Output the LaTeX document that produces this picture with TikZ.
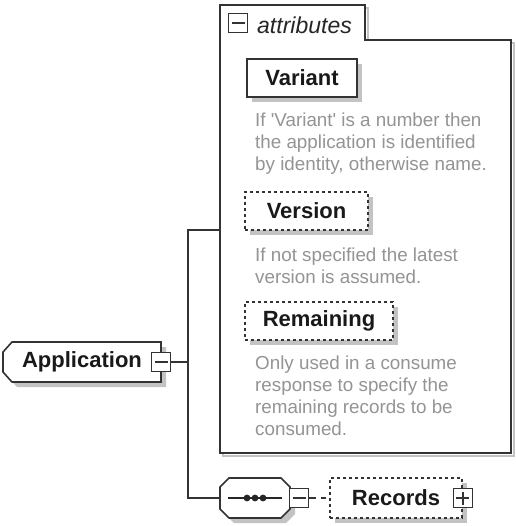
\documentclass[tikz,border=0pt]{standalone}
\usepackage{fontspec}
\setmainfont{Liberation Sans}

\definecolor{shadowgray}{RGB}{195,195,195}

\begin{document}
\begin{tikzpicture}[x=1pt,y=-1pt,
		line_style/.style={draw=black!80,line width=1.6pt},
		shade_fill/.style={fill=shadowgray},
		label_style/.style={font=\fontsize{22}{26}\selectfont\bfseries,text=black!90},
		elem_style/.style={label_style,rectangle,minimum width=158pt,minimum height=40pt,inner sep=0pt},
		seq_style/.style={rectangle,minimum width=70pt,minimum height=40pt,inner sep=0pt},
		attr_style/.style={line_style,fill=white,label_style,rectangle,minimum height=38pt,inner sep=0pt},
		opt_style/.style={attr_style,dash pattern=on 3pt off 3pt},
		desc_style/.style={anchor=north west,align=left,inner sep=0pt,text=black!42,
			font=\fontsize{18.8}{22}\selectfont},
		minus_box/.style={rectangle,draw=black!80,line width=1.4pt,fill=white,minimum size=19pt,inner sep=0pt,
			path picture={\draw[line width=1.4pt] ([xshift=3pt]path picture bounding box.west) -- ([xshift=-3pt]path picture bounding box.east);}},
		plus_box/.style={minus_box,
			path picture={\draw[line width=1.4pt] ([xshift=3pt]path picture bounding box.west) -- ([xshift=-3pt]path picture bounding box.east);
				\draw[line width=1.4pt] ([yshift=-3pt]path picture bounding box.north) -- ([yshift=3pt]path picture bounding box.south);}}]

		\useasboundingbox (0,0) rectangle (515,526);

		% attributes container
		\draw[line_style,draw=shadowgray,shift={(3,3)}] (220,453) -- (220,5) -- (365,5) -- (365,40) -- (511,40) -- (511,453) -- cycle;
		\draw[line_style,fill=white] (220,453) -- (220,5) -- (365,5) -- (365,40) -- (511,40) -- (511,453) -- cycle;

		% shadows
		\fill[shade_fill] (252,64) rectangle (362,102);
		\fill[shade_fill] (250,197) rectangle (373,235);
		\fill[shade_fill] (250,307) rectangle (398,345);
		\fill[shade_fill] (335,483) rectangle (467,523);
		\fill[shade_fill,shift={(5,5)}] (12,342) -- (161,342) -- (161,382) -- (12,382) -- (3,372) -- (3,352) -- cycle;
		\fill[shade_fill,shift={(5,5)}] (229,478) -- (281,478) -- (290,487) -- (290,509) -- (281,518) -- (229,518) -- (220,509) -- (220,487) -- cycle;

		% element and sequence outlines
		\draw[line_style,fill=white] (12,342) -- (161,342) -- (161,382) -- (12,382) -- (3,372) -- (3,352) -- cycle;
		\draw[line_style,fill=white] (229,478) -- (281,478) -- (290,487) -- (290,509) -- (281,518) -- (229,518) -- (220,509) -- (220,487) -- cycle;

		\node[minus_box] (m_attr) at (238,23) {};
		\node[anchor=west,inner sep=0pt,font=\fontsize{23}{26}\selectfont\itshape,text=black!85] (attr_title) at (257,25) {attributes};
		\coordinate (attr_in) at (220,230);

		\node[attr_style,minimum width=110pt] (variant) at (302,78) {Variant};
		\node[desc_style] (variant_desc) at (255,113) {If \textquotesingle Variant\textquotesingle{} is a number then\\the application is identified\\by identity, otherwise name.};

		\node[opt_style,minimum width=123pt] (version) at (306.5,211) {Version};
		\node[desc_style] (version_desc) at (255,248) {If not specified the latest\\version is assumed.};

		\node[opt_style,minimum width=148pt] (remaining) at (319,321) {Remaining};
		\node[desc_style] (remaining_desc) at (255,356) {Only used in a consume\\response to specify the\\remaining records to be\\consumed.};

		% element and children
		\node[elem_style] (app) at (82,362) {Application\hspace{18pt}};
		\node[minus_box] (m_app) at (app.east) {};

		\node[seq_style] (seq) at (255,498) {};
		\node[minus_box] (m_seq) at (299,498) {};
		\draw[line width=1.3pt,draw=black!85] ([xshift=-27]seq.center) -- ([xshift=27]seq.center);
		\foreach \dx in {-8,0,8}
			\fill[black!85] ([xshift=\dx]seq.center) circle (3.4);

		\node[opt_style,minimum width=132pt,minimum height=40pt] (records) at (396,498) {Records\hspace{10pt}};
		\node[plus_box] (p_rec) at (records.east) {};

		\coordinate (j_top) at (188,230);
		\coordinate (j_mid) at (188,362);
		\coordinate (j_bot) at (188,498);

		\draw[line_style] (m_app) -- (j_mid);
		\draw[line_style] (j_mid) -- (j_top) -- (attr_in);
		\draw[line_style] (j_mid) -- (j_bot) -- (seq);
		\draw[line_style,dash pattern=on 7pt off 5pt on 5pt off 20pt] (m_seq) -- (records);

\end{tikzpicture}
\end{document}
